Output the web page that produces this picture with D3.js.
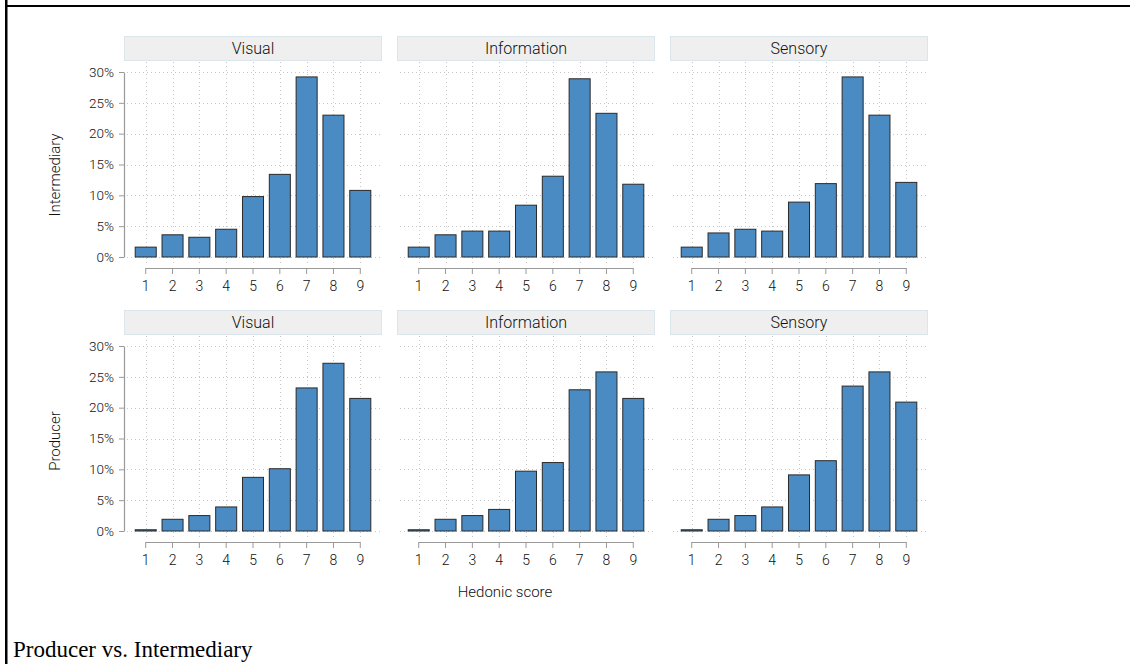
<!DOCTYPE html>
<html><head><meta charset="utf-8">
<script src="https://cdn.jsdelivr.net/npm/d3@7"></script>
<style>
body{margin:0;background:#fff}
svg{display:block}
</style></head><body>
<svg id="c" width="1130" height="664"></svg>
<script>
const scores = ["1","2","3","4","5","6","7","8","9"];
const attributes = ["Visual","Information","Sensory"];
const groups = ["Intermediary","Producer"];
const yTicks = [0,5,10,15,20,25,30];
// percentages
const intermediaryVisual      = [1.6,3.6,3.2,4.5,9.8,13.4,29.2,23.0,10.8];
const intermediaryInformation = [1.6,3.6,4.2,4.2,8.4,13.1,28.9,23.3,11.8];
const intermediarySensory     = [1.6,3.9,4.5,4.2,8.9,11.9,29.2,23.0,12.1];
const producerVisual          = [0.2,1.9,2.5,3.9,8.7,10.1,23.2,27.2,21.5];
const producerInformation     = [0.2,1.9,2.5,3.5,9.7,11.1,22.9,25.8,21.5];
const producerSensory         = [0.2,1.9,2.5,3.9,9.1,11.4,23.5,25.8,20.9];
const seriesByGroup = {
  Intermediary:[intermediaryVisual,intermediaryInformation,intermediarySensory],
  Producer:[producerVisual,producerInformation,producerSensory]
};

const svg = d3.select("#c");
const FONT = 'Roboto,"DejaVu Sans Condensed",sans-serif';
const FW = 300;
const TXT = "#111";

// page frame lines
svg.append("rect").attr("x",5).attr("y",0).attr("width",2.5).attr("height",664).attr("fill","#000");
svg.append("rect").attr("x",5).attr("y",5).attr("width",1125).attr("height",2).attr("fill","#000");

const panelW = 258, plotH = 185;
const panelX = [124,397,670];
const rowTop = [72,346];

const x = d3.scaleBand().domain(scores).range([0,panelW]).paddingInner(0.216).paddingOuter(0.418);
const y = d3.scaleLinear().domain([0,30]).range([plotH,0]);
const bw = x.bandwidth();

groups.forEach((g,ri)=>{
  attributes.forEach((a,ci)=>{
    const vals = seriesByGroup[g][ci];
    const p = svg.append("g").attr("transform",`translate(${panelX[ci]},${rowTop[ri]})`);
    // strip
    p.append("rect").attr("x",0.5).attr("y",-35.5).attr("width",panelW-1).attr("height",24)
      .attr("fill","#efefef").attr("stroke","#dbe5ec").attr("stroke-width",1);
    p.append("text").attr("x",panelW/2).attr("y",-18).attr("text-anchor","middle")
      .attr("font-family",FONT).attr("font-weight",FW).attr("font-size",16).attr("fill",TXT).text(a);
    // grid
    p.selectAll(".hg").data(yTicks).enter().append("line")
      .attr("x1",3).attr("x2",panelW).attr("y1",d=>Math.round(y(d))+0.5).attr("y2",d=>Math.round(y(d))+0.5)
      .attr("stroke","#c8c8c8").attr("stroke-width",1).attr("stroke-dasharray","1,3");
    p.selectAll(".vg").data(scores).enter().append("line")
      .attr("x1",d=>Math.round(x(d)+bw/2)+0.5).attr("x2",d=>Math.round(x(d)+bw/2)+0.5)
      .attr("y1",-10).attr("y2",191)
      .attr("stroke","#c8c8c8").attr("stroke-width",1).attr("stroke-dasharray","1,3");
    // bars
    p.selectAll(".bar").data(vals).enter().append("rect")
      .attr("x",(d,i)=>x(scores[i])).attr("width",bw)
      .attr("y",d=>y(d)).attr("height",d=>y(0)-y(d))
      .attr("fill","#4b8bc4").attr("stroke","#2a2a2a").attr("stroke-width",1);
    // x axis
    const xa = p.append("g").attr("transform",`translate(0,196)`)
      .call(d3.axisBottom(x).tickSize(6).tickSizeOuter(0).tickPadding(7));
    xa.select(".domain").remove();
    xa.selectAll(".tick line").attr("stroke","#999");
    xa.selectAll(".tick text").attr("font-family",FONT).attr("font-weight",FW).attr("font-size",14).attr("fill",TXT);
    xa.append("line").attr("x1",x("1")+bw/2).attr("x2",x("9")+bw/2).attr("y1",0.5).attr("y2",0.5)
      .attr("stroke","#999").attr("stroke-width",1.2);
    // y axis on first column
    if(ci===0){
      const ya = p.append("g")
        .call(d3.axisLeft(y).tickValues(yTicks).tickFormat(d=>d+"%").tickSize(5).tickSizeOuter(0).tickPadding(5));
      ya.select(".domain").attr("stroke","#999").attr("stroke-width",1.2);
      ya.selectAll(".tick line").attr("stroke","#999");
      ya.selectAll(".tick text").attr("font-family",FONT).attr("font-weight",FW).attr("font-size",13.5).attr("fill",TXT);
    }
  });
});

// row labels
[[175,"Intermediary"],[441,"Producer"]].forEach(([cy,t])=>{
  svg.append("text").attr("transform",`translate(60,${cy}) rotate(-90)`).attr("text-anchor","middle")
    .attr("font-family",FONT).attr("font-weight",FW).attr("font-size",15).attr("fill",TXT).text(t);
});
svg.append("text").attr("x",505).attr("y",597).attr("text-anchor","middle")
  .attr("font-family",FONT).attr("font-weight",FW).attr("font-size",15).attr("fill",TXT).text("Hedonic score");
svg.append("text").attr("x",13).attr("y",657)
  .attr("font-family",'"Liberation Serif","Times New Roman",serif').attr("font-size",23).attr("fill","#000")
  .text("Producer vs. Intermediary");
</script>
</body></html>
